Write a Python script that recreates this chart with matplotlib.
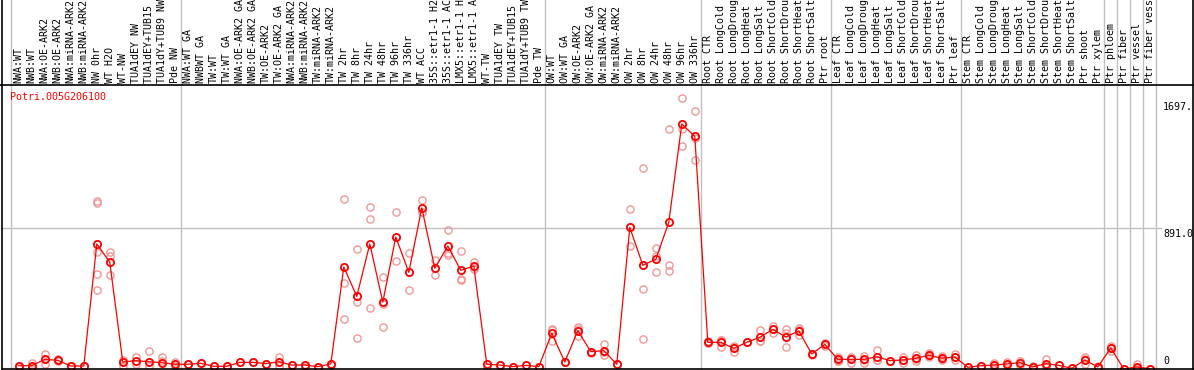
import matplotlib
matplotlib.use("Agg")
import matplotlib.pyplot as plt
from matplotlib.lines import Line2D
from matplotlib.transforms import blended_transform_factory

GENE = "Potri.005G206100"

# sample labels, one list per group (group separators drawn between them)
groups = [
    ["NWA:WT", "NWB:WT", "NWA:OE-ARK2", "NWB:OE-ARK2", "NWA:miRNA-ARK2",
     "NWB:miRNA-ARK2", "NW 0hr", "WT H2O", "WT-NW", "TUA1dEY NW",
     "TUA1dEY+TUB15 NW", "TUA1dY+TUB9 NW", "Pde NW"],
    ["NWA:WT GA", "NWBWT GA", "TW:WT", "TW:WT GA", "NWA:OE-ARK2 GA",
     "NWB:OE-ARK2 GA", "TW:OE-ARK2", "TW:OE-ARK2 GA", "NWA:miRNA-ARK2",
     "NWB:miRNA-ARK2", "TW:miRNA-ARK2", "TW:miRNA-ARK2", "TW 2hr", "TW 8hr",
     "TW 24hr", "TW 48hr", "TW 96hr", "TW 336hr", "WT ACC",
     "35S::etr1-1 H2O", "35S::etr1-1 ACC", "LMX5::etr1-1 H2O",
     "LMX5::etr1-1 ACC", "WT-TW", "TUA1dEY TW", "TUA1dEY+TUB15 TW",
     "TUA1dY+TUB9 TW", "Pde TW"],
    ["OW:WT", "OW:WT GA", "OW:OE-ARK2", "OW:OE-ARK2 GA", "OW:miRNA-ARK2",
     "OW:miRNA-ARK2", "OW 2hr", "OW 8hr", "OW 24hr", "OW 48hr", "OW 96hr",
     "OW 336hr"],
    ["Root CTR", "Root LongCold", "Root LongDrought", "Root LongHeat",
     "Root LongSalt", "Root ShortCold", "Root ShortDrought",
     "Root ShortHeat", "Root ShortSalt", "Ptr root"],
    ["Leaf CTR", "Leaf LongCold", "Leaf LongDrought", "Leaf LongHeat",
     "Leaf LongSalt", "Leaf ShortCold", "Leaf ShortDrought",
     "Leaf ShortHeat", "Leaf ShortSalt", "Ptr leaf"],
    ["Stem CTR", "Stem LongCold", "Stem LongDrought", "Stem LongHeat",
     "Stem LongSalt", "Stem ShortCold", "Stem ShortDrought",
     "Stem ShortHeat", "Stem ShortSalt", "Ptr shoot", "Ptr xylem"],
    ["Ptr phloem"],
    ["Ptr fiber"],
    ["Ptr vessel"],
    ["Ptr fiber vessel"],
]

means = [21, 21, 61, 55, 19, 19, 792, 676, 44, 53, 46, 40, 30,
         30, 36, 17, 17, 42, 42, 34, 46, 25, 25, 15, 32, 646, 460, 792, 424,
         836, 612, 1020, 638, 779, 625, 652, 30, 25, 15, 23, 15,
         226, 44, 243, 110, 116, 30, 897, 657, 695, 929, 1552, 1473,
         169, 169, 131, 169, 201, 251, 203, 241, 95, 156,
         61, 61, 61, 78, 53, 57, 68, 87, 68, 76,
         11, 21, 25, 32, 40, 13, 34, 23, 4, 57, 13,
         133, 0, 13, 2]

replicates = [
    [21, 10], [35, 10], [94, 32], [62, 48], [19, 19], [19, 19],
    [1066, 1049, 739, 600, 498], [739, 718, 594], [57, 19], [78, 30],
    [114, 19], [74, 49], [46, 19],
    [30, 30], [36], [17], [17], [42], [42], [34], [78, 19], [25], [25, 15],
    [15], [32, 25], [1077, 545, 317], [760, 422, 196], [1026, 950, 384],
    [583, 412, 266], [994, 682], [735, 500], [1070, 994, 994], [690, 593],
    [880, 724, 733], [745, 572, 566], [678, 631, 647], [30, 15], [25], [15],
    [23], [15],
    [247, 177, 254], [44], [268, 209, 252], [110, 104], [156, 87, 105], [30],
    [1013, 779, 899], [1273, 507, 190], [764, 718, 612], [1518, 661, 621],
    [1714, 1518, 1410], [1632, 1324, 1463],
    [175, 165, 167], [184, 141, 182], [146, 106, 141], [169, 169],
    [247, 179, 177], [274, 226, 253], [251, 226, 139], [258, 215, 250],
    [95, 87], [163, 146],
    [78, 53, 53], [74, 40, 69], [84, 40, 59], [122, 57, 55], [53],
    [74, 40, 57], [87, 51, 66], [103, 78, 80], [83, 57, 64], [95, 57, 76],
    [11], [21], [36, 13], [44, 23], [51, 27], [19, 2], [65, 23, 14], [23],
    [4], [78, 32, 61], [17, 8],
    [148, 116, 135], [0], [32, 2, 5], [2],
]

scale_ticks = [1697, 891, 0]
scale_labels = ["1697.", "891.0", "0"]

labels = [name for g in groups for name in g]

# figure geometry in pixels
W, H = 1194, 370
LEFT, RIGHT, TOP, BOTTOM = 1.5, 1193, 85, 369
X0, STEP = 18.8, 13.0
GRID = "#c0c0c0"
MONO = "DejaVu Sans Mono"


def fx(px):
    return px / W


def fy(py):
    return 1 - py / H


fig = plt.figure(figsize=(W / 100, H / 100), dpi=100)
ax = fig.add_axes([fx(LEFT), fy(BOTTOM), (RIGHT - LEFT) / W,
                   (BOTTOM - TOP) / H])
ax.set_xlim((LEFT - X0) / STEP, (RIGHT - X0) / STEP)
ax.set_ylim(0, (BOTTOM - TOP) * 891 / (BOTTOM - 228.3))
ax.axis("off")

# group separators, running up through the label strip
ext = BOTTOM / (BOTTOM - TOP)
ax.axvline(-0.62, ymin=0, ymax=ext, color=GRID, lw=1, clip_on=False)
pos = 0
for g in groups:
    pos += len(g)
    ax.axvline(pos - 0.55, ymin=0, ymax=ext, color=GRID, lw=1,
               clip_on=False)
ax.axhline(891, xmin=0, xmax=(1161 - LEFT) / (RIGHT - LEFT), color=GRID,
           lw=1)

xs = list(range(len(means)))
rx = [i for i, r in enumerate(replicates) for _ in r]
ry = [v for r in replicates for v in r]
ax.plot(rx, ry, "o", ms=5.2, mfc="none", mec="#ee9999", mew=1.0, zorder=2)
ax.plot(xs, means, "-", color="red", lw=0.9, zorder=3)
ax.plot(xs, means, "o", ms=5.2, mfc="none", mec="red", mew=1.3, zorder=4)

# sample labels
trans = blended_transform_factory(ax.transData, ax.transAxes)
for i, name in enumerate(labels):
    ax.text(i, 1 + 2 / (BOTTOM - TOP), name, rotation=90, ha="center",
            va="bottom", transform=trans, family=MONO, fontsize=7.2,
            color="black", clip_on=False)

# scale labels on the right
ytrans = blended_transform_factory(ax.transAxes, ax.transData)
for v, s in zip(scale_ticks, scale_labels):
    va = "bottom" if v == 0 else "top"
    yy = v + 20 if v == 0 else v - 5
    ax.text((1163 - LEFT) / (RIGHT - LEFT), yy, s, ha="left", va=va,
            transform=ytrans, family=MONO, fontsize=7.2, color="black",
            clip_on=False)

fig.text(fx(10), fy(96.7), GENE, ha="left", va="center", family=MONO,
         fontsize=7.2, color="red")

# frame lines
for xa, ya in [([fx(LEFT)] * 2, [fy(0), fy(BOTTOM)]),
               ([fx(RIGHT)] * 2, [fy(0), fy(BOTTOM)]),
               ([fx(LEFT), fx(RIGHT)], [fy(BOTTOM)] * 2),
               ([0, fx(RIGHT)], [fy(TOP)] * 2)]:
    fig.add_artist(Line2D(xa, ya, color="black", lw=1.2,
                          transform=fig.transFigure))

fig.savefig("out.png", dpi=100)
